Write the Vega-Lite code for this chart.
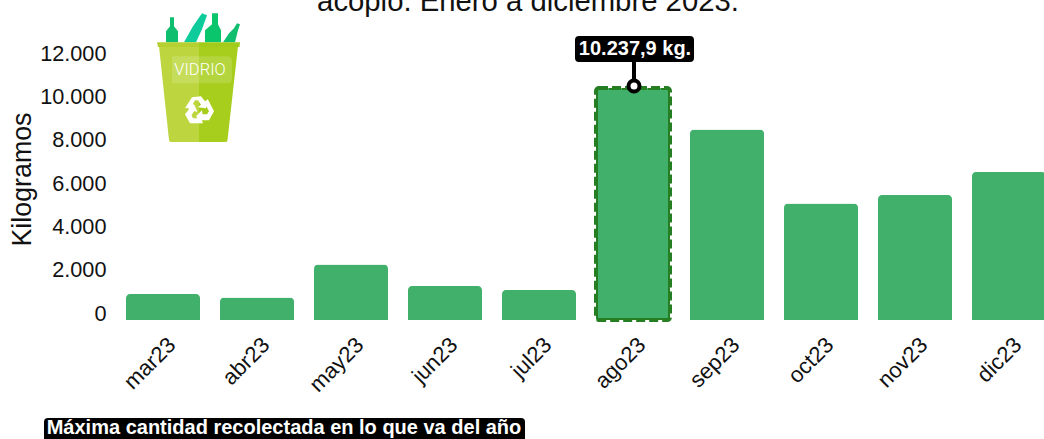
{
"$schema":"https://vega.github.io/schema/vega-lite/v6.json",
"width":934,"height":320,
"autosize":{"type":"none"},
"padding":{"left":110,"top":0,"right":0,"bottom":119},
"background":"white",
"view":{"stroke":null},
"title":{"text":"acopio. Enero a diciembre 2023.","font":"Liberation Sans","fontSize":29.3,"fontWeight":"normal","color":"#111111","anchor":"middle","frame":"group","dx":-49,"offset":-17},
"config":{"font":"Liberation Sans"},
"resolve":{"scale":{"y":"independent"},"axis":{"y":"independent"}},
"layer":[
{
"layer":[
{"data":{"values":[{"mes":"mar23","kg":1147},{"mes":"abr23","kg":993},{"mes":"may23","kg":2449},{"mes":"jun23","kg":1500},{"mes":"jul23","kg":1324},{"mes":"ago23","kg":10237.9},{"mes":"sep23","kg":8407},{"mes":"oct23","kg":5141},{"mes":"nov23","kg":5516},{"mes":"dic23","kg":6531}]},
"mark":{"type":"bar","fill":"#41B06A","cornerRadiusTopLeft":4,"cornerRadiusTopRight":4},
"encoding":{
"x":{"field":"mes","type":"nominal","sort":null,"title":null,
"scale":{"domain":["mar23","abr23","may23","jun23","jul23","ago23","sep23","oct23","nov23","dic23"],"range":[6,946],"paddingInner":0.2128,"paddingOuter":0.1064},
"axis":{"domain":false,"ticks":false,"tickSize":0,"labelAngle":-45,"labelAlign":"right","labelBaseline":"middle","labelFontSize":22,"labelColor":"#111111","labelPadding":21,"labelOffset":9}},
"y":{"field":"kg","type":"quantitative","axis":null,"scale":{"domain":[0,14121],"nice":false,"zero":true}}
}},
{"data":{"values":[{"mes":"ago23","kg":10237.9}]},
"mark":{"type":"bar","fill":"#41B06A","stroke":"#267E23","strokeWidth":4,"strokeDash":[9,4],"cornerRadius":3},
"encoding":{"x":{"field":"mes","type":"nominal"},"y":{"field":"kg","type":"quantitative"}}},
{"data":{"values":[{"mes":"ago23","kg":10237.9,"etiqueta":"10.237,9 kg."}]},
"encoding":{"x":{"field":"mes","type":"nominal"},"y":{"field":"kg","type":"quantitative"}},
"layer":[
{"mark":{"type":"point","filled":true,"opacity":1,"size":4,"strokeWidth":0,"fill":"black","shape":"M-54,-52 H57 Q61,-52 61,-48 V-30 Q61,-26 57,-26 H3 V-4 H-1 V-26 H-54 Q-58,-26 -58,-30 V-48 Q-58,-52 -54,-52 Z"}},
{"mark":{"type":"point","filled":true,"opacity":1,"size":121,"shape":"circle","fill":"white","stroke":"black","strokeWidth":4,"xOffset":1,"yOffset":-2}},
{"mark":{"type":"text","color":"white","fontWeight":"bold","fontSize":20,"dx":2,"dy":-39,"align":"center","baseline":"middle"},"encoding":{"text":{"field":"etiqueta"}}}
]},
{"data":{"values":[{"nota":"Máxima cantidad recolectada en lo que va del año"}]},
"encoding":{"x":{"datum":"abr23","type":"nominal"},"y":{"datum":-4766}},
"layer":[
{"mark":{"type":"point","filled":true,"opacity":1,"size":4,"strokeWidth":0,"fill":"black","shape":"M-209,-10 H264 Q268,-10 268,-6 V11 H-213 V-6 Q-213,-10 -209,-10 Z"}},
{"mark":{"type":"text","color":"white","fontWeight":"bold","fontSize":20,"dx":27,"align":"center","baseline":"middle"},"encoding":{"text":{"field":"nota"}}}
]},
{"data":{"values":[{"icono":"VIDRIO"}]},
"encoding":{"x":{"datum":"abr23","type":"nominal"},"y":{"datum":9700}},
"layer":[
{"mark":{"type":"point","filled":true,"opacity":1,"size":4,"strokeWidth":0,"xOffset":-58,"fill":"#10BE70","shape":"M-33,-58 L-33,-69 L-29,-74 L-29,-83 L-25,-83 L-25,-74 L-21,-69 L-21,-58 Z"}},
{"mark":{"type":"point","filled":true,"opacity":1,"size":4,"strokeWidth":0,"xOffset":-58,"fill":"#0DCB9A","shape":"M-15,-58 L-6,-74 L3,-87 L8,-85 L3,-71 L-3,-58 Z"}},
{"mark":{"type":"point","filled":true,"opacity":1,"size":4,"strokeWidth":0,"xOffset":-58,"fill":"#0BC56C","shape":"M6,-58 L6,-70 L13,-76 L13,-87 L19,-87 L19,-76 L22,-70 L22,-58 Z"}},
{"mark":{"type":"point","filled":true,"opacity":1,"size":4,"strokeWidth":0,"xOffset":-58,"fill":"#10BE70","shape":"M24,-58 L30,-67 L35,-72 L38,-77 L41,-76 L39,-70 L36,-58 Z"}},
{"mark":{"type":"point","filled":true,"opacity":1,"size":4,"strokeWidth":0,"xOffset":-58,"fill":"#BDD63F","shape":"M-40,-54 L0,-54 L0,41.7 L-28,41.7 Q-30,41.7 -30,39.7 Z"}},
{"mark":{"type":"point","filled":true,"opacity":1,"size":4,"strokeWidth":0,"xOffset":-58,"fill":"#A7CE1C","shape":"M0,-54 L39,-54 L28.5,39.7 Q28.5,41.7 26.5,41.7 L0,41.7 Z"}},
{"mark":{"type":"point","filled":true,"opacity":1,"size":4,"strokeWidth":0,"xOffset":-58,"fill":"#B5D030","shape":"M-42,-58 L0,-58 L0,-53.3 L-41,-53.3 Z"}},
{"mark":{"type":"point","filled":true,"opacity":1,"size":4,"strokeWidth":0,"xOffset":-58,"fill":"#A3CB1A","shape":"M0,-58 L41,-58 L40.5,-53.3 L0,-53.3 Z"}},
{"mark":{"type":"point","filled":true,"opacity":0.15,"size":4,"strokeWidth":0,"xOffset":-58,"fill":"white","shape":"M-27,-44 L28,-44 Q33,-44 33,-39 L33,-22 Q33,-17 28,-17 L-27,-17 Z"}},
{"mark":{"type":"point","filled":true,"opacity":1,"size":4,"strokeWidth":0,"xOffset":-58,"yOffset":10,"fill":"white","shape":"M-14,-2 L-7,-13 L2,-14 L6,-9 L9,-11 L7,-2 L-1,-3 L2,-5.5 L-1,-10 L-4,-10 L-8,-3 Z M8.7,-11.1 L15,1 L10,10 L3,10 L3,13.5 L-3,6 L3,0 L3.5,4 L8,4 L10,1 L6.5,-6 Z M4,13 L-9,13 L-14,4 L-10,-1 L-13,-4 L-5,-6 L-1.5,1.5 L-5,1 L-7.5,5 L-6,8 L2,8 Z"}},
{"mark":{"type":"text","color":"white","font":"Roboto","fontWeight":300,"fontSize":16.5,"dx":-57,"dy":-30,"align":"center","baseline":"middle"},"encoding":{"text":{"field":"icono"}}}
]}
]
},
{"data":{"values":[{"marca":0},{"marca":2000},{"marca":4000},{"marca":6000},{"marca":8000},{"marca":10000},{"marca":12000}]},
"mark":{"type":"point","opacity":0},
"encoding":{"y":{"field":"marca","type":"quantitative","title":"Kilogramos",
"scale":{"domain":[0,12000],"range":[313,53],"nice":false},
"axis":{"orient":"left","values":[0,2000,4000,6000,8000,10000,12000],"domain":false,"ticks":false,"tickSize":0,"grid":false,"labelPadding":4,"labelFontSize":21.7,"labelColor":"#111111","labelExpr":"replace(format(datum.value,','),',','.')","titleFontSize":26.8,"titleFontWeight":"normal","titleColor":"#111111","titleX":-88,"titleY":179,"titleAlign":"center","titleBaseline":"middle"}}}}
]
}
